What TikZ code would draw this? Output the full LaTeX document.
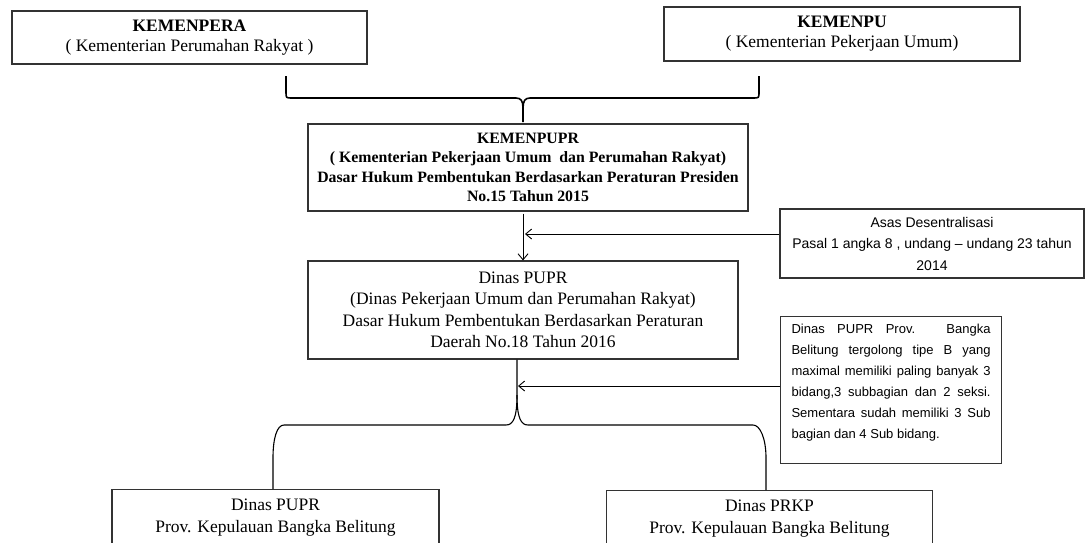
\documentclass[tikz,border=0pt]{standalone}
\usepackage{fontspec}
\setmainfont{Liberation Serif}
\setsansfont{Liberation Sans}
\usetikzlibrary{arrows.meta}
\begin{document}
\begin{tikzpicture}[x=1pt,y=-1pt,
  box/.style={draw=black!80, line width=1.1pt, inner sep=0pt, align=center},
  topfont/.style={font=\fontsize{17.5}{20}\selectfont},
  midfont/.style={font=\fontsize{15.8}{19.2}\selectfont\bfseries},
  dinfont/.style={font=\fontsize{17.5}{21.5}\selectfont},
  sansnote/.style={font=\fontsize{14}{21.5}\selectfont\sffamily},
  arr/.style={-{Straight Barb[length=6pt,width=10pt]}, line width=0.9pt},
  bigbrace/.style={line width=1.6pt, line join=round},
  smallbrace/.style={line width=1.1pt, line join=round}]
\useasboundingbox (0,0) rectangle (1086,542);
\clip (0,0) rectangle (1086,542);

% boxes
\node[box, topfont, minimum width=355pt, minimum height=53pt] (kpera) at (189.5,37.5)
  {\textbf{KEMENPERA}\\( Kementerian Perumahan Rakyat )};
\node[box, topfont, minimum width=356pt, minimum height=54pt] (kpu) at (842,34)
  {\textbf{KEMENPU}\\( Kementerian Pekerjaan Umum)};
\node[box, midfont, minimum width=440pt, minimum height=87pt] (kpupr) at (528,167.5)
  {KEMENPUPR\\( Kementerian Pekerjaan Umum\ \ dan Perumahan Rakyat)\\Dasar Hukum Pembentukan Berdasarkan Peraturan Presiden\\No.15 Tahun 2015};
\node[box, sansnote, minimum width=304pt, minimum height=69pt] (asas) at (932,243.5)
  {Asas Desentralisasi\\Pasal 1 angka 8 , undang -- undang 23 tahun\\2014};
\node[box, dinfont, minimum width=430pt, minimum height=98pt] (dpupr) at (523,310)
  {Dinas PUPR\\(Dinas Pekerjaan Umum dan Perumahan Rakyat)\\Dasar Hukum Pembentukan Berdasarkan Peraturan\\Daerah No.18 Tahun 2016};
\node[box, anchor=north west, inner xsep=11pt, inner ysep=0pt] (notes) at (780,316)
  {\begin{minipage}[t][147pt][t]{199pt}\vspace*{8pt}\fontsize{13}{21}\selectfont\sffamily
  Dinas PUPR Prov. Bangka\linebreak
  Belitung tergolong tipe B yang\linebreak
  maximal memiliki paling banyak 3\linebreak
  bidang,3 subbagian dan 2 seksi.\linebreak
  Sementara sudah memiliki 3 Sub\linebreak
  bagian dan 4 Sub bidang.\par\end{minipage}};
\node[box, dinfont, anchor=north, minimum width=327pt, minimum height=56pt] (bl) at (275.5,489)
  {Dinas PUPR\\Prov. Kepulauan Bangka Belitung};
\node[box, dinfont, anchor=north, minimum width=326pt, minimum height=56pt] (br) at (769.5,490)
  {Dinas PRKP\\Prov. Kepulauan Bangka Belitung};

% top brace
\coordinate (tl) at (286,76);
\coordinate (tr) at (759,76);
\coordinate (ttip) at (523,122);
\draw[bigbrace] (tl) -- (286,92) .. controls (286,98) .. (292,98) -- (516,98)
  .. controls (521,98) and (523,101) .. (523,108) -- (ttip);
\draw[bigbrace] (tr) -- (759,92) .. controls (759,98) .. (753,98) -- (530,98)
  .. controls (525,98) and (523,101) .. (523,108);

% arrows
\coordinate (ax) at (523,0);
\draw[arr] ([yshift=-2pt]ax |- kpupr.south) -- (ax |- dpupr.north);
\coordinate (c2) at (525,234);
\draw[arr] (asas.west |- c2) -- (c2);
\coordinate (c3) at (518,386);
\draw[arr] (notes.west |- c3) -- (c3);

% lower brace
\coordinate (sx) at (517,0);
\draw[smallbrace] (sx |- dpupr.south) -- (517,395)
  .. controls (517,418) and (513,425) .. (506,425) -- (284,425)
  .. controls (277,425) and (273,438) .. (273,458) -- (bl.north -| 273,0);
\draw[smallbrace] (517,395)
  .. controls (517,418) and (521,425) .. (528,425) -- (753,425)
  .. controls (760,425) and (766,438) .. (766,458) -- (br.north -| 766,0);
\end{tikzpicture}
\end{document}
